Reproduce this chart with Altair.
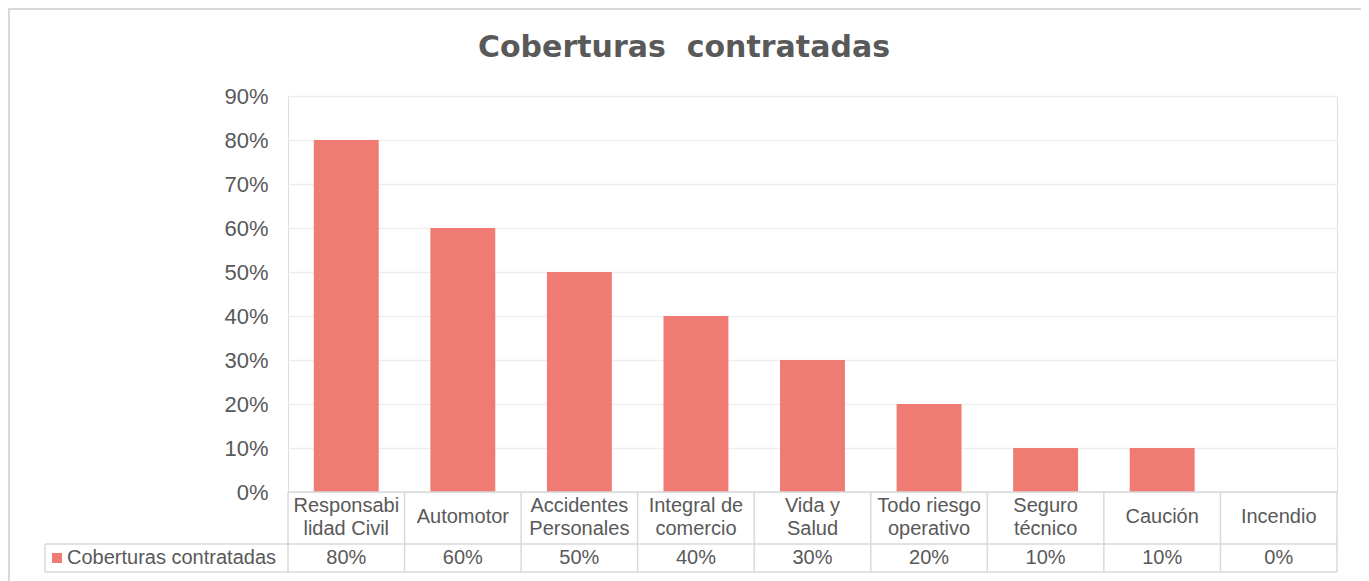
import altair as alt
import pandas as pd

titulo = "Coberturas\u00a0 contratadas"
serie = "Coberturas contratadas"
categorias = ["Responsabi\nlidad Civil", "Automotor", "Accidentes\nPersonales",
              "Integral de\ncomercio", "Vida y\nSalud", "Todo riesgo\noperativo",
              "Seguro\ntécnico", "Caución", "Incendio"]
valores = [0.80, 0.60, 0.50, 0.40, 0.30, 0.20, 0.10, 0.10, 0.00]
ticks_y = [0.0, 0.1, 0.2, 0.3, 0.4, 0.5, 0.6, 0.7, 0.8, 0.9]

W, H = 1049, 396
ROW1, ROW2 = 52, 80
LEFT_CELL = -243
BAR = "#F07B72"
GRID = "#D9D9D9"
TXT = "#595959"
FONT = "Liberation Sans"

df = pd.DataFrame({"cat": categorias, "valor": valores})
one = pd.DataFrame({"k": [0]})

xcat_bar = alt.X("cat:N", sort=categorias, axis=None,
                 scale=alt.Scale(domain=categorias, paddingInner=0.443,
                                 paddingOuter=0.2215))


def xtab(**kw):
    return alt.X("cat:N", sort=categorias, axis=None,
                 scale=alt.Scale(domain=categorias, paddingInner=0, paddingOuter=0),
                 **kw)


border = alt.Chart(one).mark_rect(fill=None, stroke=GRID, strokeWidth=2).encode(
    x=alt.value(-279), x2=alt.value(1074), y=alt.value(-87), y2=alt.value(494))

title = alt.Chart(one).mark_text(font="DejaVu Sans", fontSize=30, fontWeight="bold",
                                 color=TXT, align="center", baseline="alphabetic").encode(
    x=alt.value(396), y=alt.value(-39), text=alt.value(titulo))

bars = alt.Chart(df).mark_bar(color=BAR).encode(
    x=xcat_bar,
    y=alt.Y("valor:Q", scale=alt.Scale(domain=[0, 0.9], nice=False),
            axis=alt.Axis(values=ticks_y, format=".0%", title=None, domain=False,
                          ticks=False, labelPadding=20, labelFontSize=22,
                          labelFont=FONT, labelColor=TXT, gridColor="#EEEEEE",
                          gridWidth=1.5)))

vlines = alt.Chart(df).mark_rule(color=GRID, strokeWidth=1.5).encode(
    x=xtab(bandPosition=0), y=alt.value(H), y2=alt.value(H + ROW2))

right_line = alt.Chart(one).mark_rule(color=GRID, strokeWidth=1.5).encode(
    x=alt.value(W), y=alt.value(H), y2=alt.value(H + ROW2))
left_cell_line = alt.Chart(one).mark_rule(color=GRID, strokeWidth=1.5).encode(
    x=alt.value(LEFT_CELL), y=alt.value(H + ROW1), y2=alt.value(H + ROW2))
top_line = alt.Chart(one).mark_rule(color=GRID, strokeWidth=1.5).encode(
    x=alt.value(0), x2=alt.value(W), y=alt.value(H))
mid_line = alt.Chart(one).mark_rule(color=GRID, strokeWidth=1.5).encode(
    x=alt.value(LEFT_CELL), x2=alt.value(W), y=alt.value(H + ROW1))
bot_line = alt.Chart(one).mark_rule(color=GRID, strokeWidth=1.5).encode(
    x=alt.value(LEFT_CELL), x2=alt.value(W), y=alt.value(H + ROW2))

cat_text_2 = alt.Chart(df).transform_filter(
    "indexof(datum.cat, '\\n') >= 0"
).mark_text(font=FONT, fontSize=20, color=TXT, lineBreak="\n",
            lineHeight=23, baseline="middle", align="center").encode(
    x=xtab(), y=alt.value(H + 14), text="cat:N")

cat_text_1 = alt.Chart(df).transform_filter(
    "indexof(datum.cat, '\\n') < 0"
).mark_text(font=FONT, fontSize=20, color=TXT,
            baseline="middle", align="center").encode(
    x=xtab(), y=alt.value(H + 25), text="cat:N")

val_text = alt.Chart(df).mark_text(font=FONT, fontSize=20, color=TXT,
                                   baseline="middle", align="center").encode(
    x=xtab(), y=alt.value(H + 66), text=alt.Text("valor:Q", format=".0%"))

leg_sq = alt.Chart(one).mark_point(shape="square", filled=True, color=BAR, size=100,
                                   opacity=1).encode(
    x=alt.value(LEFT_CELL + 12), y=alt.value(H + 66))
leg_txt = alt.Chart(one).mark_text(font=FONT, fontSize=20, color=TXT, align="left",
                                   baseline="middle").encode(
    x=alt.value(LEFT_CELL + 22), y=alt.value(H + 66), text=alt.value(serie))

chart = alt.layer(
    border, title, bars, vlines, right_line, left_cell_line, top_line, mid_line,
    bot_line, cat_text_2, cat_text_1, val_text, leg_sq, leg_txt
).resolve_scale(x="independent").properties(
    width=W, height=H,
    autosize="none",
    padding={"left": 280, "top": 88, "right": 24, "bottom": 100},
).configure_view(stroke=None).configure(background="white")

chart.save("out.html", embed_options={"renderer": "svg", "actions": False})
